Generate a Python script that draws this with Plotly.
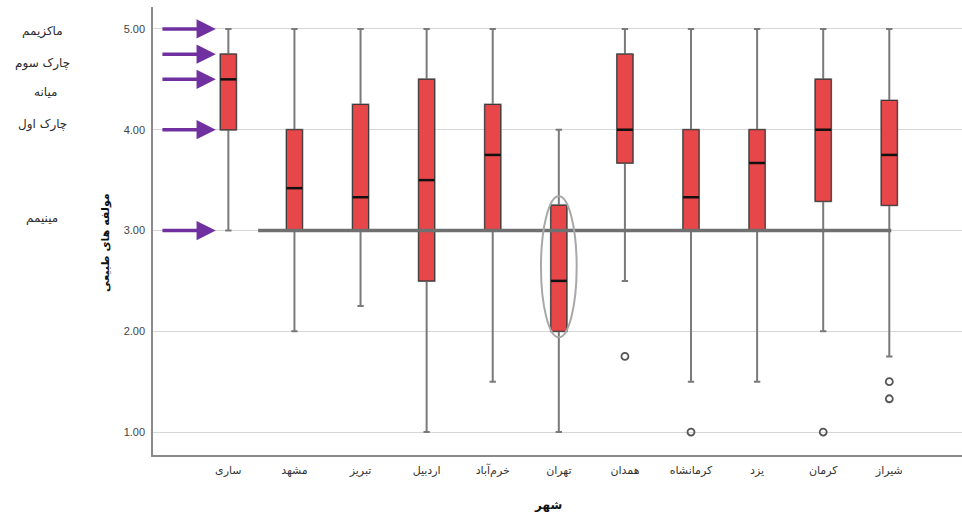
import plotly.graph_objects as go

# Cities (x axis) and box statistics of the natural-component score
cities = ["ساری", "مشهد", "تبریز", "اردبیل", "خرم‌آباد", "تهران",
          "همدان", "کرمانشاه", "یزد", "کرمان", "شیراز"]
minimum = [3.00, 2.00, 2.25, 1.00, 1.50, 1.00, 2.50, 1.50, 1.50, 2.00, 1.75]
q1 = [4.00, 3.00, 3.00, 2.50, 3.00, 2.00, 3.67, 3.00, 3.00, 3.29, 3.25]
median = [4.50, 3.42, 3.33, 3.50, 3.75, 2.50, 4.00, 3.33, 3.67, 4.00, 3.75]
q3 = [4.75, 4.00, 4.25, 4.50, 4.25, 3.25, 4.75, 4.00, 4.00, 4.50, 4.29]
maximum = [5.00, 5.00, 5.00, 5.00, 5.00, 4.00, 5.00, 5.00, 5.00, 5.00, 5.00]

# Outlying observations (city index, value)
outlier_city = [6, 7, 9, 10, 10]
outlier_value = [1.75, 1.00, 1.00, 1.50, 1.33]

# Reference level and labelled statistics of the first box
reference_level = 3.00
stat_labels = ["ماکزیمم", "چارک سوم", "میانه", "چارک اول", "مینیمم"]
stat_values = [maximum[0], q3[0], median[0], q1[0], minimum[0]]

y_ticks = [1, 2, 3, 4, 5]

BOX_RED = "#e8474a"
BOX_W = 0.24
WHISKER_GRAY = "#7a7a7a"
ARROW_PURPLE = "#7030a0"
AR_FONT = "DejaVu Sans, Arial, sans-serif"

# plot-area geometry in pixels (used to place margin texts)
W, H = 962, 517
L, R, T, B = 153, 0, 7, 62
PW, PH = W - L - R, H - T - B


def px_to_paper(px, py):
    return (px - L) / PW, (H - B - py) / PH


xs = list(range(len(cities)))
fig = go.Figure()

# whiskers (grey), drawn from the full five-number summary
fig.add_trace(go.Box(
    x=xs, q1=q1, median=median, q3=q3,
    lowerfence=minimum, upperfence=maximum,
    width=BOX_W, whiskerwidth=0.4,
    fillcolor=BOX_RED, line=dict(color=WHISKER_GRAY, width=2),
    boxpoints=False, showlegend=False, hoverinfo="skip"))

# box bodies with dark outline on top
fig.add_trace(go.Box(
    x=xs, q1=q1, median=median, q3=q3,
    lowerfence=q1, upperfence=q3,
    width=BOX_W, whiskerwidth=0,
    fillcolor=BOX_RED, line=dict(color="#3a3a3a", width=1),
    boxpoints=False, showlegend=False, hoverinfo="skip"))

# heavier median bars
mx, my = [], []
for i, m in zip(xs, median):
    mx += [i - BOX_W / 2, i + BOX_W / 2, None]
    my += [m, m, None]
fig.add_trace(go.Scatter(x=mx, y=my, mode="lines",
                         line=dict(color="#111111", width=2.5),
                         showlegend=False, hoverinfo="skip"))

# outliers
fig.add_trace(go.Scatter(
    x=outlier_city, y=outlier_value, mode="markers",
    marker=dict(symbol="circle-open", size=7, color="#555555",
                line=dict(width=1.8, color="#555555")),
    showlegend=False, hoverinfo="skip"))

# horizontal reference bar at the level of 3
fig.add_shape(type="line", xref="x", yref="y",
              x0=0.45, x1=xs[-1] + 0.03, y0=reference_level, y1=reference_level,
              line=dict(color="#707070", width=3.5), layer="above")

# ellipse highlighting the Tehran box
t = cities.index("تهران")
fig.add_shape(type="circle", xref="x", yref="y",
              x0=t - 0.27, x1=t + 0.27,
              y0=q1[t] - 0.06, y1=q3[t] + 0.09,
              line=dict(color="#a8a8a8", width=2), layer="above")

# purple arrows pointing at the statistics of the first box
for v in stat_values:
    fig.add_annotation(x=-0.19, y=v, ax=-1.02, ay=v,
                       xref="x", yref="y", axref="x", ayref="y",
                       showarrow=True, arrowhead=2, arrowsize=1.1,
                       arrowwidth=3.5, arrowcolor=ARROW_PURPLE, text="")

# statistic names in the left margin
label_y_px = [31, 63, 92, 124, 218]
label_x_px = [42, 42, 45, 42, 42]
for name, px, py in zip(stat_labels, label_x_px, label_y_px):
    ax_, ay_ = px_to_paper(px, py)
    fig.add_annotation(x=ax_, y=ay_, xref="paper", yref="paper",
                       text=name, showarrow=False, xanchor="center",
                       yanchor="middle",
                       font=dict(family=AR_FONT, size=12, color="#2b2b2b"))

# axis titles
tx, ty = px_to_paper(105, 243)
fig.add_annotation(x=tx, y=ty, xref="paper", yref="paper",
                   text="<b>مولفه های طبیعی</b>", textangle=-90,
                   showarrow=False, xanchor="center", yanchor="middle",
                   font=dict(family=AR_FONT, size=11, color="#111111"))
tx, ty = px_to_paper(548, 505)
fig.add_annotation(x=tx, y=ty, xref="paper", yref="paper",
                   text="<b>شهر</b>", showarrow=False,
                   xanchor="center", yanchor="middle",
                   font=dict(family=AR_FONT, size=12, color="#111111"))

fig.update_layout(
    width=W, height=H,
    margin=dict(l=L, r=R, t=T, b=B),
    paper_bgcolor="white", plot_bgcolor="white",
    showlegend=False,
    xaxis=dict(range=[-1.14, 11.1], tickmode="array", tickvals=xs,
               ticktext=cities, showgrid=False, zeroline=False,
               showline=True, linecolor="#8a8a8a", linewidth=1.5,
               ticks="", ticklabelstandoff=4,
               tickfont=dict(family=AR_FONT, size=11, color="#333333")),
    yaxis=dict(range=[0.772, 5.218], tickmode="array", tickvals=y_ticks,
               tickformat=".2f", showgrid=True, gridcolor="#d6d6d6",
               gridwidth=1, zeroline=False, showline=True,
               linecolor="#8a8a8a", linewidth=1.5, ticks="",
               ticklabelstandoff=4,
               tickfont=dict(family="Liberation Sans, Arial, sans-serif",
                             size=11, color="#444444")),
)

fig.write_html("out.html")
